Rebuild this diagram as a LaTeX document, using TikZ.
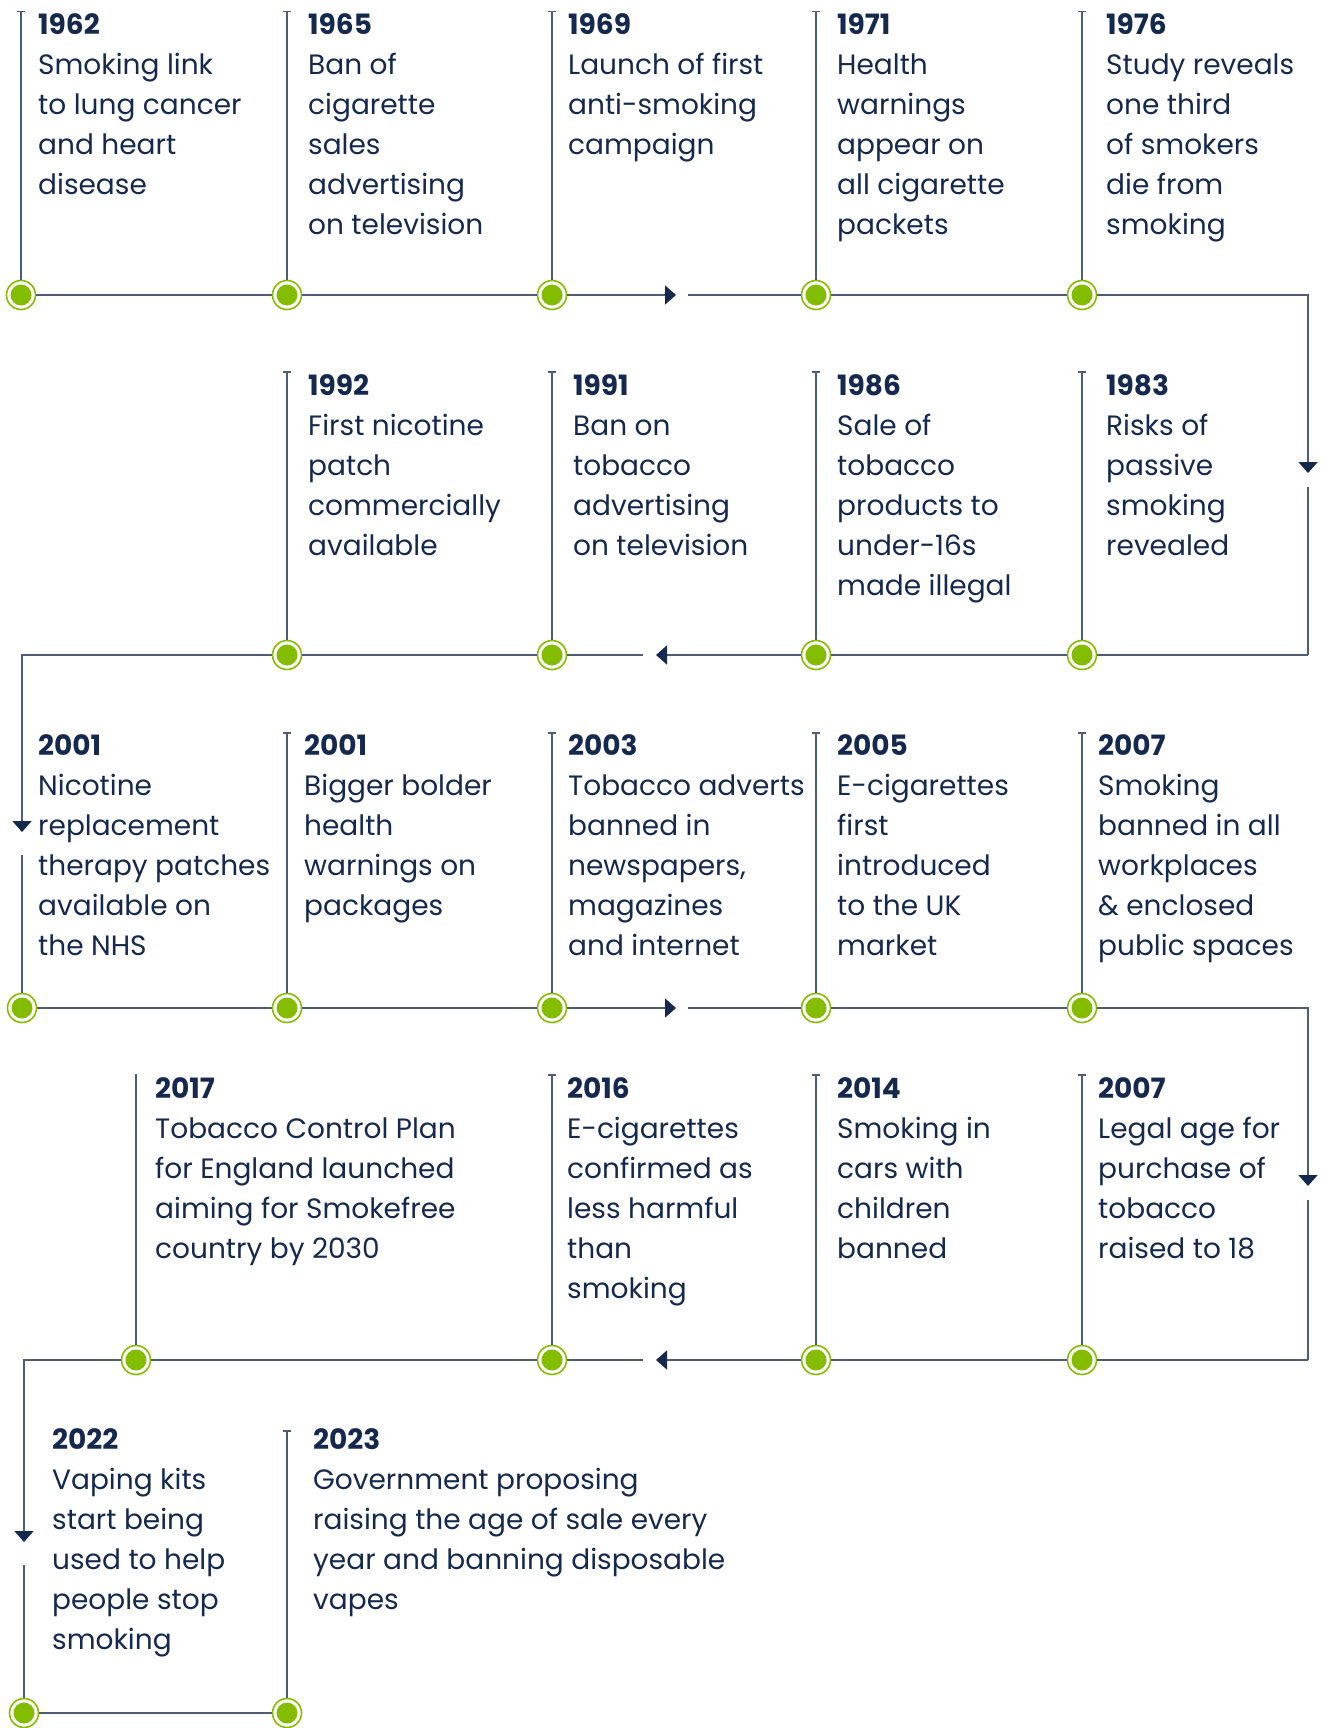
\documentclass[tikz,border=0pt]{standalone}
\usepackage{fontspec}
\setmainfont{Poppins}
\usepackage{tikz}
\usetikzlibrary{arrows.meta}
\usepackage{xcolor}

\definecolor{navy}{HTML}{15294F}
\definecolor{rulecol}{HTML}{4E5C78}
\definecolor{limegreen}{HTML}{84BC00}

\newcommand{\evt}[2]{\parbox[t]{20cm}{\raggedright\textbf{#1}\\#2}}

\begin{document}
\begin{tikzpicture}[x=1pt,y=-1pt,
  dot/.style={circle, draw=limegreen, line width=1.6pt, fill=white, minimum size=29pt, inner sep=0pt,
    path picture={\fill[limegreen] (path picture bounding box.center) circle (10.5pt);}},
  link/.style={draw=rulecol, line width=1.8pt},
  stem/.style={draw=rulecol, line width=1.8pt, -{Bar[width=8pt,line width=1.5pt]}},
  head/.style={-{Triangle[length=11pt,width=19pt,color=navy]}},
  event/.style={anchor=base west, inner sep=0pt, text=navy, font=\fontsize{28}{40}\selectfont}]

\useasboundingbox (0,0) rectangle (1322,1728);

% row one
\node[dot] (d11) at (21,295) {};
\node[dot] (d12) at (287,295) {};
\node[dot] (d13) at (552,295) {};
\node[dot] (d14) at (816,295) {};
\node[dot] (d15) at (1082,295) {};

\draw[stem] (d11) -- (d11 |- 0,11);
\draw[stem] (d12) -- (d12 |- 0,11);
\draw[stem] (d13) -- (d13 |- 0,11);
\draw[stem] (d14) -- (d14 |- 0,11);
\draw[stem] (d15) -- (d15 |- 0,11);

\node[event] (e1962) at (38,35) {\evt{1962}{Smoking link\\to lung cancer\\and heart\\disease}};
\node[event] (e1965) at (308,35) {\evt{1965}{Ban of\\cigarette\\sales\\advertising\\on television}};
\node[event] (e1969) at (568,35) {\evt{1969}{Launch of first\\anti-smoking\\campaign}};
\node[event] (e1971) at (837,35) {\evt{1971}{Health\\warnings\\appear on\\all cigarette\\packets}};
\node[event] (e1976) at (1106,35) {\evt{1976}{Study reveals\\one third\\of smokers\\die from\\smoking}};

\coordinate (a1) at (676,295);
\coordinate (b1) at (688,295);
\coordinate (k1) at (1308,295);
\coordinate (a2) at (1308,473);
\coordinate (b2) at (1308,487);
\coordinate (k2) at (1308,655);

\draw[link] (d11) -- (d12);
\draw[link] (d12) -- (d13);
\draw[link,head] (d13) -- (a1);
\draw[link] (b1) -- (d14);
\draw[link] (d14) -- (d15);
\draw[link,head] (d15) -- (k1) -- (a2);
\draw[link] (b2) -- (k2);

% row two
\node[dot] (d22) at (287,655) {};
\node[dot] (d23) at (552,655) {};
\node[dot] (d24) at (816,655) {};
\node[dot] (d25) at (1082,655) {};

\draw[stem] (d22) -- (d22 |- 0,371);
\draw[stem] (d23) -- (d23 |- 0,371);
\draw[stem] (d24) -- (d24 |- 0,371);
\draw[stem] (d25) -- (d25 |- 0,371);

\node[event] (e1992) at (308,395) {\evt{1992}{First nicotine\\patch\\commercially\\available}};
\node[event] (e1991) at (573,395) {\evt{1991}{Ban on\\tobacco\\advertising\\on television}};
\node[event] (e1986) at (837,395) {\evt{1986}{Sale of\\tobacco\\products to\\under-16s\\made illegal}};
\node[event] (e1983) at (1106,395) {\evt{1983}{Risks of\\passive\\smoking\\revealed}};

\coordinate (a3) at (656,655);
\coordinate (b3) at (643,655);
\coordinate (k3) at (22,655);
\coordinate (a4) at (22,832);
\coordinate (b4) at (22,855);

\draw[link] (k2) -- (d25);
\draw[link] (d25) -- (d24);
\draw[link,head] (d24) -- (a3);
\draw[link] (b3) -- (d23);
\draw[link] (d23) -- (d22);
\draw[link,head] (d22) -- (k3) -- (a4);

% row three
\node[dot] (d31) at (22,1008) {};
\node[dot] (d32) at (287,1008) {};
\node[dot] (d33) at (552,1008) {};
\node[dot] (d34) at (816,1008) {};
\node[dot] (d35) at (1082,1008) {};

\draw[link] (b4) -- (d31);
\draw[stem] (d32) -- (d32 |- 0,732);
\draw[stem] (d33) -- (d33 |- 0,732);
\draw[stem] (d34) -- (d34 |- 0,732);
\draw[stem] (d35) -- (d35 |- 0,732);

\node[event] (e2001a) at (38,755) {\evt{2001}{Nicotine\\replacement\\therapy patches\\available on\\the NHS}};
\node[event] (e2001b) at (304,755) {\evt{2001}{Bigger bolder\\health\\warnings on\\packages}};
\node[event] (e2003) at (568,755) {\evt{2003}{Tobacco adverts\\banned in\\newspapers,\\magazines\\and internet}};
\node[event] (e2005) at (837,755) {\evt{2005}{E-cigarettes\\first\\introduced\\to the UK\\market}};
\node[event] (e2007a) at (1098,755) {\evt{2007}{Smoking\\banned in all\\workplaces\\\& enclosed\\public spaces}};

\coordinate (a5) at (676,1008);
\coordinate (b5) at (688,1008);
\coordinate (k4) at (1308,1008);
\coordinate (a6) at (1308,1186);
\coordinate (b6) at (1308,1200);
\coordinate (k5) at (1308,1360);

\draw[link] (d31) -- (d32);
\draw[link] (d32) -- (d33);
\draw[link,head] (d33) -- (a5);
\draw[link] (b5) -- (d34);
\draw[link] (d34) -- (d35);
\draw[link,head] (d35) -- (k4) -- (a6);
\draw[link] (b6) -- (k5);

% row four
\node[dot] (d41) at (136,1360) {};
\node[dot] (d43) at (552,1360) {};
\node[dot] (d44) at (816,1360) {};
\node[dot] (d45) at (1082,1360) {};

\draw[link] (d41) -- (d41 |- 0,1074);
\draw[stem] (d43) -- (d43 |- 0,1074);
\draw[stem] (d44) -- (d44 |- 0,1074);
\draw[stem] (d45) -- (d45 |- 0,1074);

\node[event] (e2017) at (155,1098) {\evt{2017}{Tobacco Control Plan\\for England launched\\aiming for Smokefree\\country by 2030}};
\node[event] (e2016) at (567,1098) {\evt{2016}{E-cigarettes\\confirmed as\\less harmful\\than\\smoking}};
\node[event] (e2014) at (837,1098) {\evt{2014}{Smoking in\\cars with\\children\\banned}};
\node[event] (e2007b) at (1098,1098) {\evt{2007}{Legal age for\\purchase of\\tobacco\\raised to 18}};

\coordinate (a7) at (656,1360);
\coordinate (b7) at (643,1360);
\coordinate (k6) at (24,1360);
\coordinate (a8) at (24,1542);
\coordinate (b8) at (24,1565);

\draw[link] (k5) -- (d45);
\draw[link] (d45) -- (d44);
\draw[link,head] (d44) -- (a7);
\draw[link] (b7) -- (d43);
\draw[link] (d43) -- (d41);
\draw[link,head] (d41) -- (k6) -- (a8);

% row five
\node[dot] (d51) at (24,1713) {};
\node[dot] (d52) at (287,1713) {};

\draw[link] (b8) -- (d51);
\draw[stem] (d52) -- (d52 |- 0,1430);

\node[event] (e2022) at (52,1449) {\evt{2022}{Vaping kits\\start being\\used to help\\people stop\\smoking}};
\node[event] (e2023) at (313,1449) {\evt{2023}{Government proposing\\raising the age of sale every\\year and banning disposable\\vapes}};

\draw[link] (d51) -- (d52);

\end{tikzpicture}
\end{document}
